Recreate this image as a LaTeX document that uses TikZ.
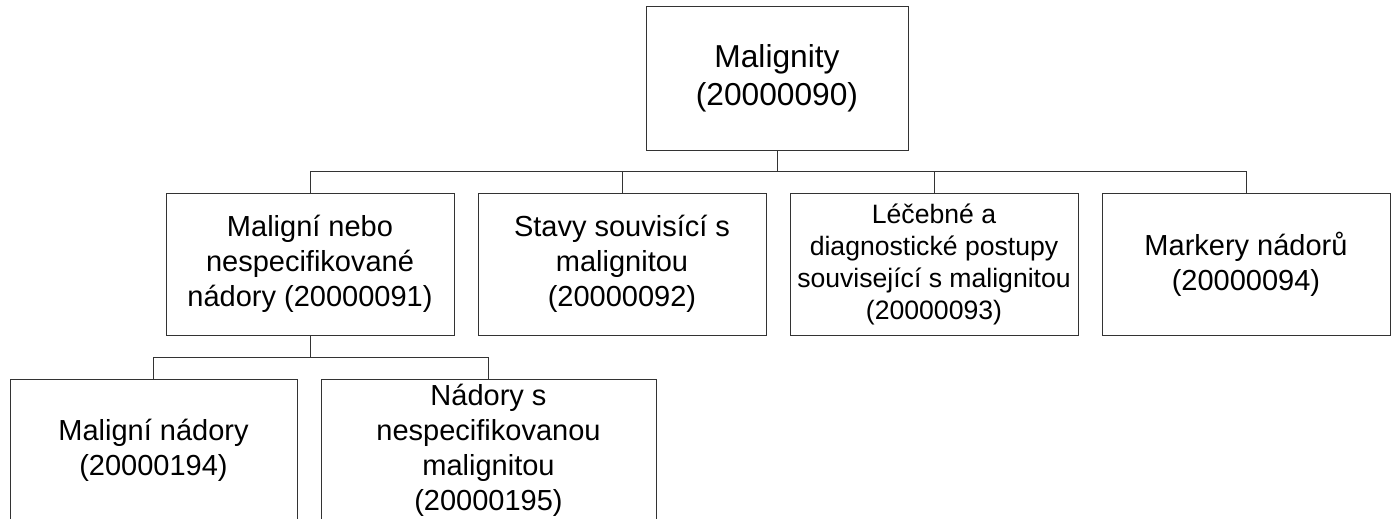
\documentclass[tikz,border=0pt]{standalone}
\usepackage{fontspec}
\setmainfont{Liberation Sans}
\usepackage{tikz}

\begin{document}
\begin{tikzpicture}[x=1pt,y=-1pt,
  every node/.style={rectangle,draw=black!80,line width=1pt,align=center,inner sep=0pt,
    minimum width=288pt,minimum height=142pt,font=\fontsize{29}{35}\selectfont},
  link/.style={draw=black!80,line width=1pt}]
  \useasboundingbox (0,0) rectangle (1395,519);

  \node (a) [minimum width=262pt,minimum height=143pt,font=\fontsize{31.7}{38}\selectfont] at (777,78.5) {Malignity\\(20000090)};

  \node (b1) at ( 310,264) {Maligní nebo\\nespecifikované\\nádory (20000091)};
  \node (b2) at ( 622,264) {Stavy souvisící s\\malignitou\\(20000092)};
  \node (b3) [font=\fontsize{26.6}{32}\selectfont] at ( 934,264) {Léčebné a\\diagnostické postupy\\související s malignitou\\(20000093)};
  \node (b4) at (1246,264) {Markery nádorů\\(20000094)};

  \node (c1) [minimum width=287pt,minimum height=143pt] at (153.5,450.5) {Maligní nádory\\(20000194)};
  \node (c2) [minimum width=335pt,minimum height=143pt] at (488.5,450.5) {Nádory s\\nespecifikovanou\\malignitou\\(20000195)};

  \draw[link] (a.south) -- ++(0,20.5) -| (b1.north);
  \draw[link] (a.south) -- ++(0,20.5) -| (b2.north);
  \draw[link] (a.south) -- ++(0,20.5) -| (b3.north);
  \draw[link] (a.south) -- ++(0,20.5) -| (b4.north);

  \draw[link] (b1.south) -- ++(0,21.5) -| (c1.north);
  \draw[link] (b1.south) -- ++(0,21.5) -| (c2.north);
\end{tikzpicture}
\end{document}
